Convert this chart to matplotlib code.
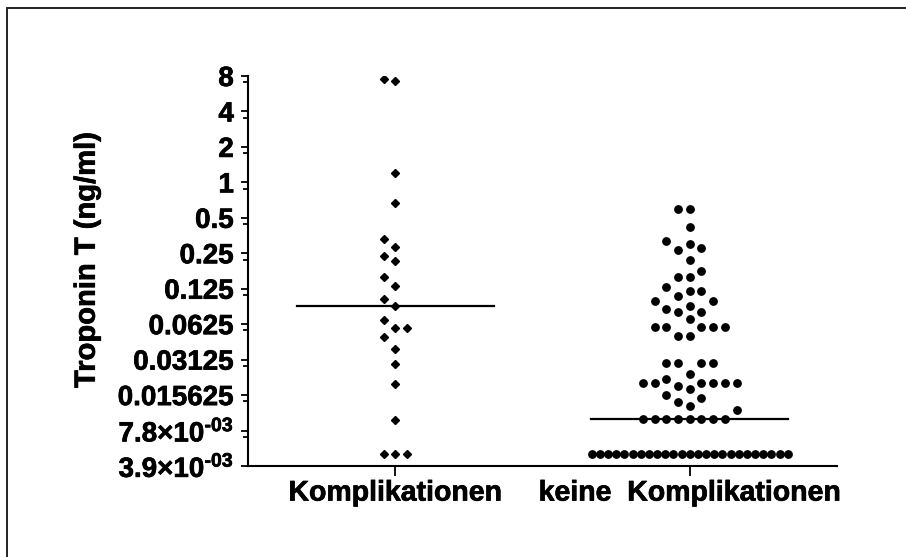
import numpy as np
import matplotlib
matplotlib.use("Agg")
import matplotlib.pyplot as plt
import matplotlib.patheffects as pe
from matplotlib.ticker import FixedLocator, FixedFormatter, NullFormatter
from matplotlib.patches import Rectangle

plt.rcParams["font.family"] = ["Liberation Sans", "DejaVu Sans"]
plt.rcParams["font.weight"] = "bold"
plt.rcParams["mathtext.fontset"] = "custom"
plt.rcParams["mathtext.rm"] = "Liberation Sans:bold"
plt.rcParams["mathtext.it"] = "Liberation Sans:bold"
plt.rcParams["mathtext.bf"] = "Liberation Sans:bold"

# ---- data -------------------------------------------------------------
group_labels = ["Komplikationen", "keine  Komplikationen"]

troponin_kompl = [7.5, 7.3, 1.21, 0.664, 0.330, 0.281, 0.237, 0.213, 0.156,
                  0.133, 0.102, 0.0897, 0.0677, 0.0576, 0.0576, 0.0484,
                  0.0387, 0.0289, 0.0193, 0.00964, 0.0049, 0.0049, 0.0049]

troponin_keine = ([0.594, 0.594, 0.415, 0.318, 0.300, 0.275, 0.265, 0.218,
                   0.177, 0.158, 0.158, 0.1286, 0.1188, 0.1188, 0.1086,
                   0.0989, 0.0989, 0.0897, 0.0841, 0.0793, 0.0793, 0.069,
                   0.0591, 0.0591, 0.0591, 0.0591, 0.0591, 0.0496, 0.0496,
                   0.0294, 0.0294, 0.0294, 0.0294, 0.0235, 0.0215,
                   0.0197, 0.0197, 0.0197, 0.0197, 0.0197, 0.0197,
                   0.0187, 0.0176, 0.0156, 0.0147, 0.0137, 0.0127, 0.0117,
                   0.0097, 0.0097, 0.0097, 0.0097, 0.0097, 0.0097, 0.0097,
                   0.0097]
                  + [0.0049] * 25)

group_medians = [0.09, 0.0097]

ytick_values = [2.0 ** k for k in range(-8, 4)]
ytick_labels = ["3.9×10$^{\u201003}$", "7.8×10$^{\u201003}$", "0.015625",
                "0.03125", "0.0625", "0.125", "0.25", "0.5", "1", "2", "4",
                "8"]

# ---- figure -----------------------------------------------------------
W, H = 906, 557
fig = plt.figure(figsize=(W / 100, H / 100), dpi=100)
ax = fig.add_axes([248 / W, 1 - 466 / H, (837 - 248) / W, (466 - 76) / H])

ax.set_yscale("log", base=2)
ax.set_ylim(2.0 ** -8, 2.0 ** 3)
ax.set_xlim(0.5, 2.5)

for side in ("top", "right"):
    ax.spines[side].set_visible(False)
for side in ("left", "bottom"):
    ax.spines[side].set_linewidth(1.5)

ax.yaxis.set_major_locator(FixedLocator(ytick_values))
ax.yaxis.set_major_formatter(FixedFormatter(ytick_labels))
ax.yaxis.set_minor_locator(FixedLocator([v * 0.885 for v in ytick_values[1:]]))
ax.yaxis.set_minor_formatter(NullFormatter())
ax.tick_params(axis="y", which="major", length=5.2, width=1.3, pad=5,
               labelsize=20)
ax.tick_params(axis="y", which="minor", length=3.6, width=1.3)

ax.set_xticks([1, 2])
ax.set_xticklabels(group_labels)
ax.tick_params(axis="x", which="major", length=7.5, width=1.3, pad=3,
               labelsize=20.5)

ax.set_ylabel("Troponin T (ng/ml)", fontsize=21, fontweight="bold")
ax.yaxis.set_label_coords(-0.25, 0.528)

# slightly heavier strokes for all axis text
heavy = [pe.withStroke(linewidth=0.5, foreground="black")]
for t in ax.get_xticklabels() + ax.get_yticklabels() + [ax.yaxis.label]:
    t.set_path_effects(heavy)


def swarm_x(values, center, step_px=11.7, gap_px=12.0, half_width_px=98.0):
    """Beeswarm layout: put each point in the nearest free column."""
    values = np.asarray(values, float)
    ypix = ax.transData.transform(
        np.column_stack([np.full(len(values), center), values]))[:, 1]
    px_per_unit = (ax.transData.transform([[2, 1]])[0, 0]
                   - ax.transData.transform([[1, 1]])[0, 0])
    cols = np.zeros(len(values), int)
    placed = []
    for i in np.argsort(values, kind="stable"):
        k = 0
        while True:
            c = ((k + 1) // 2) * (-1 if k % 2 else 1)
            if all(not (pc == c and abs(py - ypix[i]) < gap_px)
                   for pc, py in placed):
                break
            k += 1
        cols[i] = c
        placed.append((c, ypix[i]))
    off = cols * step_px
    # squeeze rows of identical values that would be too wide
    for v in np.unique(values):
        m = values == v
        widest = np.abs(off[m]).max()
        if widest > half_width_px:
            off[m] = off[m] * half_width_px / widest
    return center + off / px_per_unit


x1 = swarm_x(troponin_kompl, 1)
x2 = swarm_x(troponin_keine, 2)

ax.plot(x1, troponin_kompl, linestyle="none", marker="D", markersize=4.3,
        color="black", zorder=3)
ax.plot(x2, troponin_keine, linestyle="none", marker="o", markersize=5.3,
        color="black", zorder=3)

half = 0.335
for pos, med in zip([1, 2], group_medians):
    ax.plot([pos - half, pos + half], [med, med], color="black", lw=1.6,
            zorder=2)

# outer frame
fig.patches.append(Rectangle((7 / W, -0.1), 1.2, 1.1 - 8 / H,
                             transform=fig.transFigure, fill=False,
                             edgecolor="#222222", linewidth=1.4))

fig.savefig("out.png", dpi=100)
